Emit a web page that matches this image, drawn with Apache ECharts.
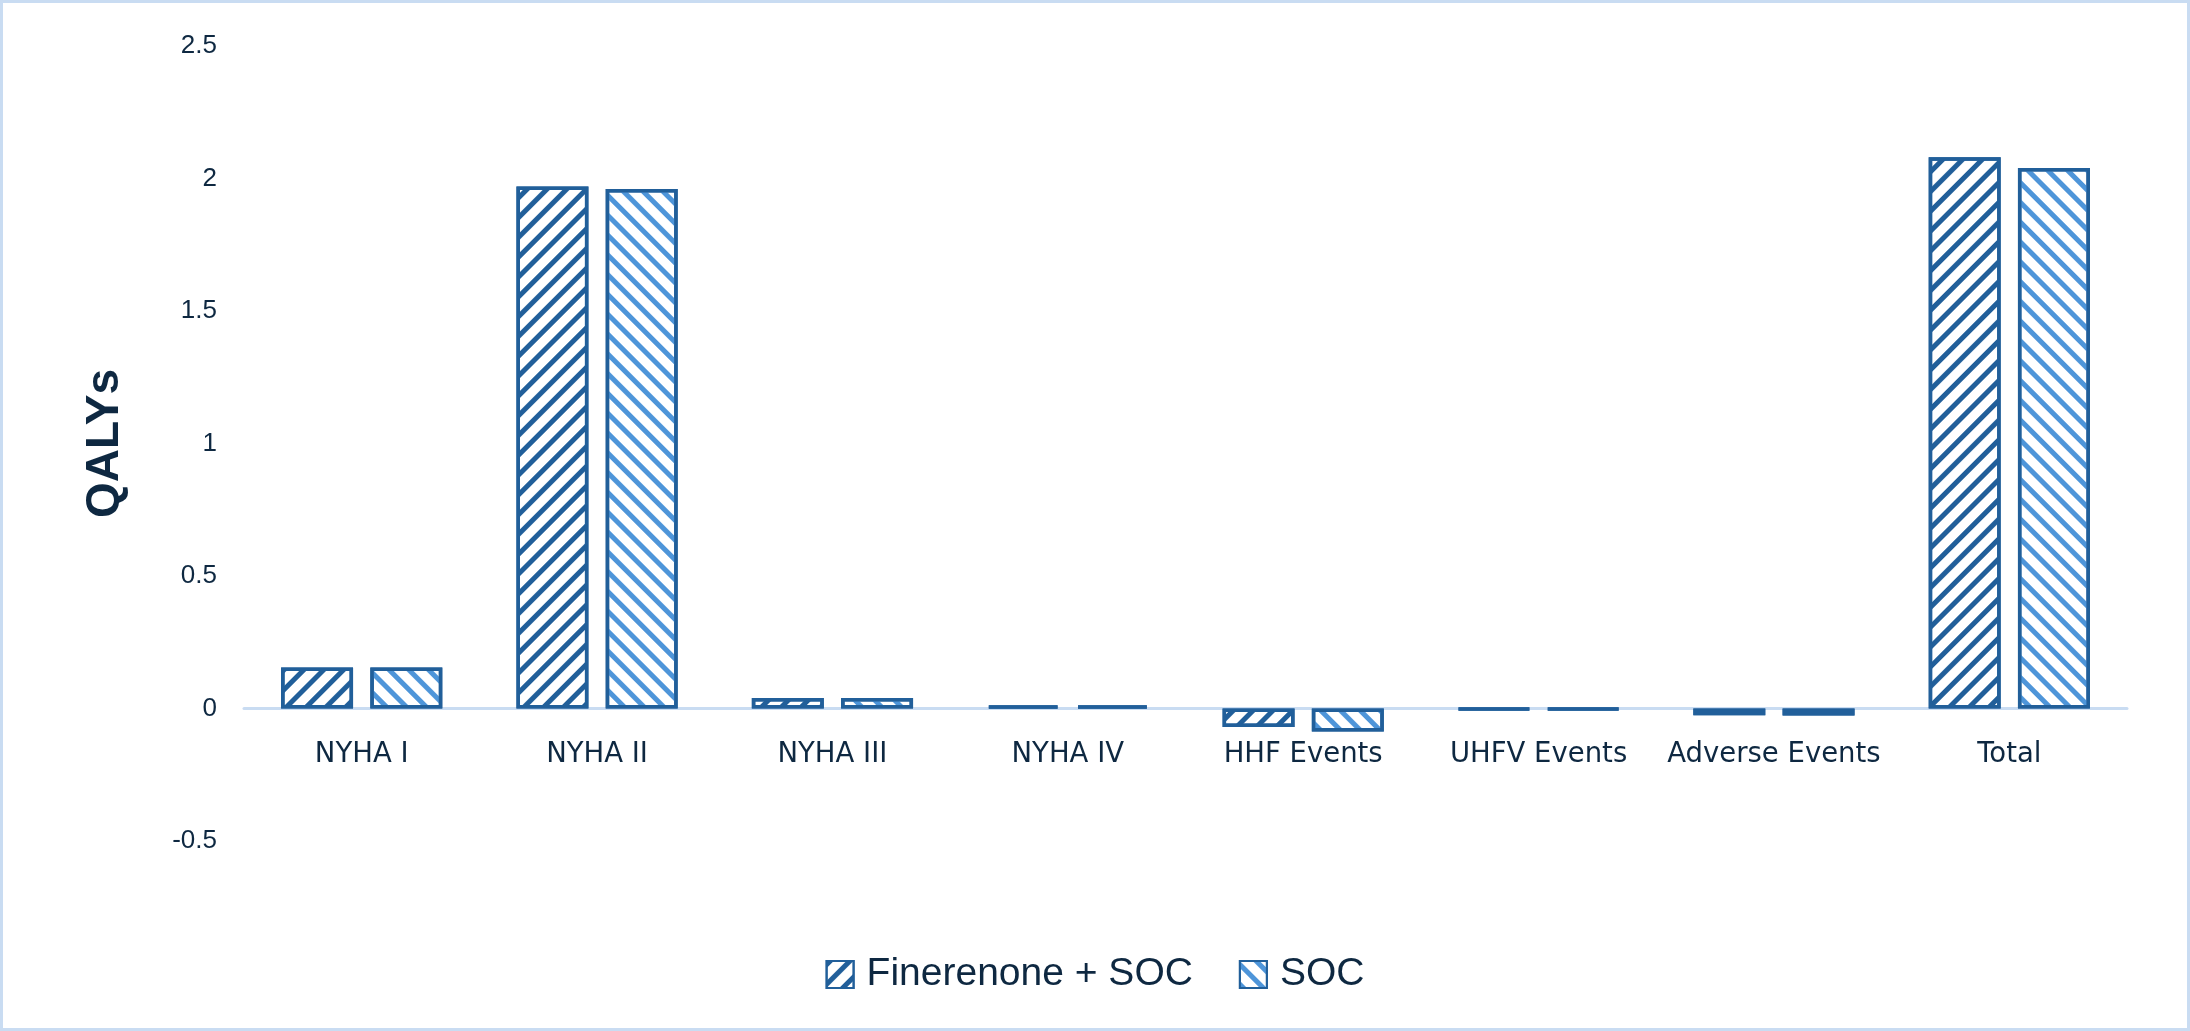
<!DOCTYPE html>
<html>
<head>
<meta charset="utf-8">
<title>QALYs by health state</title>
<script src="https://cdn.jsdelivr.net/npm/echarts@6/dist/echarts.min.js"></script>
<style>
  html, body { margin: 0; padding: 0; background: #fff; }
  #chart { width: 2190px; height: 1031px; }
</style>
</head>
<body>
<div id="chart"></div>
<script>
// data
const categories = ['NYHA I', 'NYHA II', 'NYHA III', 'NYHA IV', 'HHF Events', 'UHFV Events', 'Adverse Events', 'Total'];
const seriesNames = ['Finerenone + SOC', 'SOC'];
const finerenoneSoc = [0.155, 1.97, 0.04, 0.012, -0.07, -0.004, -0.025, 2.08];
const soc = [0.155, 1.96, 0.04, 0.012, -0.087, -0.004, -0.026, 2.04];
const yTicks = { min: -0.5, max: 2.5, step: 0.5 };

const darkBlue = '#215F9A';
const lightBlue = '#4E95D9';
const textColor = '#0E2841';
const font = '"Liberation Sans", Arial, sans-serif';
const labelFont = '"DejaVu Sans", sans-serif';

const gridTop = 46;
const gridBottom = 190;
const plotHeight = 1031 - gridTop - gridBottom;
// x axis sits on the zero line, labels move with it
const zeroOffset = plotHeight * (0 - yTicks.min) / (yTicks.max - yTicks.min);

// white fill with diagonal hatching
function hatch(color, rotation) {
  return {
    symbol: 'rect',
    symbolSize: 1,
    dashArrayX: [1, 0],
    dashArrayY: [5, 9],
    rotation: rotation,
    color: color
  };
}

const chart = echarts.init(document.getElementById('chart'));

const option = {
  backgroundColor: '#fff',
  animation: false,
  graphic: [{
    type: 'rect',
    shape: { x: 1.5, y: 1.5, width: 2187, height: 1028 },
    style: { fill: 'none', stroke: '#C9DCF2', lineWidth: 3 },
    silent: true
  }],
  grid: { left: 244, right: 63, top: gridTop, bottom: gridBottom },
  legend: {
    bottom: 32,
    left: 'center',
    itemWidth: 27,
    itemHeight: 27,
    itemGap: 46,
    icon: 'rect',
    textStyle: { fontSize: 39, color: textColor, fontFamily: font, padding: [0, 0, 0, 8] },
    data: seriesNames
  },
  xAxis: {
    type: 'category',
    data: categories,
    offset: -zeroOffset,
    axisLine: { onZero: false, lineStyle: { color: '#C9DCF2', width: 3 } },
    axisTick: { show: false },
    axisLabel: { interval: 0, margin: 32, fontSize: 27.5, color: textColor, fontFamily: labelFont }
  },
  yAxis: {
    type: 'value',
    min: yTicks.min,
    max: yTicks.max,
    interval: yTicks.step,
    name: 'QALYs',
    nameLocation: 'middle',
    nameGap: 116,
    nameTextStyle: { fontSize: 46, fontWeight: 'bold', color: textColor, fontFamily: font },
    axisLine: { show: false },
    axisTick: { show: false },
    splitLine: { show: false },
    axisLabel: { margin: 27, fontSize: 26, color: textColor, fontFamily: font }
  },
  series: [
    {
      name: seriesNames[0],
      type: 'bar',
      data: finerenoneSoc,
      barCategoryGap: '31.5%',
      barGap: '24%',
      itemStyle: {
        color: '#fff',
        borderColor: darkBlue,
        borderWidth: 3.5,
        decal: hatch(darkBlue, -Math.PI / 4)
      }
    },
    {
      name: seriesNames[1],
      type: 'bar',
      data: soc,
      barCategoryGap: '31.5%',
      barGap: '24%',
      itemStyle: {
        color: '#fff',
        borderColor: darkBlue,
        borderWidth: 3.5,
        decal: hatch(lightBlue, Math.PI / 4)
      }
    }
  ]
};

chart.setOption(option);
</script>
</body>
</html>
